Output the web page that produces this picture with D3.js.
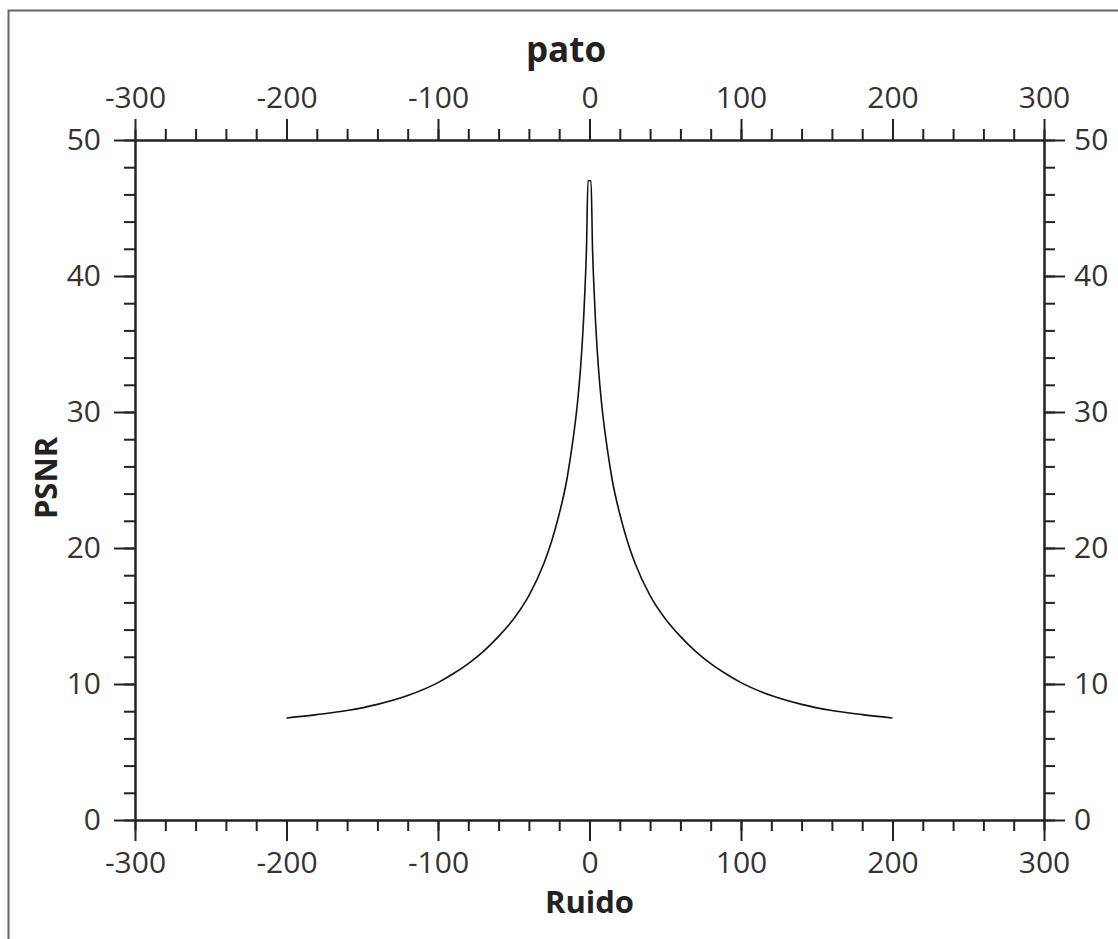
<!DOCTYPE html>
<head>
    <title>pato</title>
    <script src="https://cdn.jsdelivr.net/npm/d3@7"></script>
    <style>
      body { margin: 0; background: #fff; }
      svg text { font-family: "Open Sans", "Noto Sans", sans-serif; }
    </style>
</head>
<body>
<div id="container"></div>

<script>

// Données : bruit (x) et PSNR (y)
const ruido = [-200, -180, -160, -140, -120, -100, -90, -80, -70, -60, -50, -40, -30, -25, -20, -15, -12, -10, -8, -6, -5, -4, -3, -2, -1,
               1, 2, 3, 4, 5, 6, 8, 10, 12, 15, 20, 25, 30, 40, 50, 60, 70, 80, 90, 100, 120, 140, 160, 180, 200];
const psnr  = [7.5, 7.75, 8.05, 8.5, 9.15, 10.1, 10.75, 11.5, 12.4, 13.5, 14.8, 16.5, 18.9, 20.5, 22.5, 25.0, 27.1, 28.7, 30.6, 33.1, 34.7, 36.6, 39.0, 42.0, 47.0,
               47.0, 42.0, 39.0, 36.6, 34.7, 33.1, 30.6, 28.7, 27.1, 25.0, 22.5, 20.5, 18.9, 16.5, 14.8, 13.5, 12.4, 11.5, 10.75, 10.1, 9.15, 8.5, 8.05, 7.75, 7.5];

// Graduations
const xMajor = [-300, -200, -100, 0, 100, 200, 300];
const xMinor = d3.range(-300, 301, 20);
const yMajor = [0, 10, 20, 30, 40, 50];
const yMinor = d3.range(0, 51, 2);

const titre = "pato";
const labelX = "Ruido";
const labelY = "PSNR";

const data = ruido.map((r, i) => ({ x: r, y: psnr[i] }));

// Dimensions
const W = 1118, H = 939;
const mLeft = 135, mRight = 1044, mTop = 140, mBottom = 820;

const svg = d3.select("#container")
  .append("svg")
  .attr("width", W)
  .attr("height", H);

// Cadre extérieur
svg.append("rect")
  .attr("x", 8.5).attr("y", 10.5)
  .attr("width", 1300).attr("height", 1200)
  .attr("fill", "none")
  .attr("stroke", "#666")
  .attr("stroke-width", 2);

// Échelles
const x = d3.scaleLinear().domain([-300, 300]).range([mLeft, mRight]);
const y = d3.scaleLinear().domain([0, 50]).range([mBottom, mTop]);

const fs = 30;

function styleAxis(g) {
  g.selectAll("path.domain").attr("stroke", "#222").attr("stroke-width", 2);
  g.selectAll(".tick line").attr("stroke", "#222").attr("stroke-width", 2);
  g.selectAll(".tick text")
    .attr("fill", "#333")
    .style("font-size", fs + "px")
    .style("font-family", "'Open Sans', 'Noto Sans', sans-serif");
}

// Petites graduations
const minors = [
  [d3.axisTop(x).tickValues(xMinor), `translate(0,${mTop})`],
  [d3.axisBottom(x).tickValues(xMinor), `translate(0,${mBottom})`],
  [d3.axisLeft(y).tickValues(yMinor), `translate(${mLeft},0)`],
  [d3.axisRight(y).tickValues(yMinor), `translate(${mRight},0)`]
];
minors.forEach(([ax, tr]) => {
  svg.append("g")
    .attr("transform", tr)
    .call(ax.tickSize(11).tickSizeOuter(0).tickFormat(""))
    .call(styleAxis);
});

// Grandes graduations (tiret simple pour les négatifs)
const fmt = d => String(d);
const majors = [
  [d3.axisTop(x).tickValues(xMajor).tickPadding(11), `translate(0,${mTop})`],
  [d3.axisBottom(x).tickValues(xMajor).tickPadding(11), `translate(0,${mBottom})`],
  [d3.axisLeft(y).tickValues(yMajor).tickPadding(13), `translate(${mLeft},0)`],
  [d3.axisRight(y).tickValues(yMajor).tickPadding(9), `translate(${mRight},0)`]
];
majors.forEach(([ax, tr]) => {
  svg.append("g")
    .attr("transform", tr)
    .call(ax.tickSize(21).tickSizeOuter(0).tickFormat(fmt))
    .call(styleAxis);
});

// Courbe
svg.append("path")
  .datum(data)
  .attr("fill", "none")
  .attr("stroke", "#111")
  .attr("stroke-width", 1.6)
  .attr("d", d3.line()
    .x(d => x(d.x))
    .y(d => y(d.y))
    .curve(d3.curveMonotoneX));

// Titres
svg.append("text")
  .attr("x", 566).attr("y", 62)
  .attr("text-anchor", "middle")
  .attr("font-weight", "bold")
  .attr("fill", "#222")
  .style("font-size", "35px")
  .text(titre);

svg.append("text")
  .attr("x", (mLeft + mRight) / 2).attr("y", 913)
  .attr("text-anchor", "middle")
  .attr("font-weight", "bold")
  .attr("fill", "#222")
  .style("font-size", "31px")
  .text(labelX);

svg.append("text")
  .attr("transform", `translate(57,478) rotate(-90)`)
  .attr("text-anchor", "middle")
  .attr("font-weight", "bold")
  .attr("fill", "#222")
  .style("font-size", "31px")
  .text(labelY);

</script>
</body>
